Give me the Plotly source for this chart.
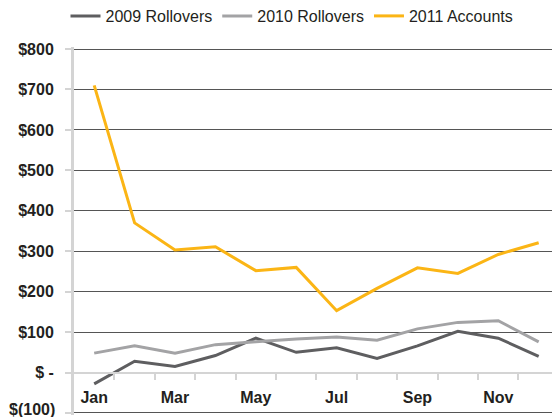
import plotly.graph_objects as go

months = ["Jan", "Feb", "Mar", "Apr", "May", "Jun", "Jul", "Aug", "Sep", "Oct", "Nov", "Dec"]
rollovers_2009 = [-28, 28, 15, 42, 85, 50, 61, 35, 66, 102, 85, 40]
rollovers_2010 = [48, 66, 48, 69, 76, 83, 88, 80, 108, 124, 128, 76]
accounts_2011 = [710, 370, 303, 311, 252, 260, 153, 208, 259, 245, 292, 321]

y_tickvals = [-100, 0, 100, 200, 300, 400, 500, 600, 700, 800]
y_ticktext = ["$(100)", "$ -", "$100", "$200", "$300", "$400", "$500", "$600", "$700", "$800"]
x_label_months = ["Jan", "Mar", "May", "Jul", "Sep", "Nov"]

idx = list(range(len(months)))
FONT = "Liberation Sans, Arial, Helvetica, sans-serif"
TXT = "#231f20"

fig = go.Figure()
series = [
    ("2009 Rollovers", rollovers_2009, "#5e5e60"),
    ("2010 Rollovers", rollovers_2010, "#a3a3a5"),
    ("2011 Accounts", accounts_2011, "#fbb515"),
]
for name, vals, col in series:
    fig.add_trace(go.Scatter(x=idx, y=vals, name=name, mode="lines",
                             line=dict(color=col, width=3)))

# invisible trace to carry the month-label axis
fig.add_trace(go.Scatter(x=idx, y=[None] * len(idx), xaxis="x2", showlegend=False,
                         hoverinfo="skip"))

yr = [-105, 805]
zero_pos = (0 - yr[0]) / (yr[1] - yr[0])
xr = [-0.5, 11.33]

# the lowest tick label sits at the page edge: draw it as an annotation nudged up
shown_ticktext = [""] + y_ticktext[1:]
fig.add_annotation(x=0, xref="paper", xanchor="right", xshift=-17,
                   y=y_tickvals[0], yref="y", yanchor="middle", yshift=3,
                   text=y_ticktext[0], showarrow=False,
                   font=dict(size=16, color=TXT, family=FONT, weight="bold"))

fig.update_layout(
    width=552, height=417,
    margin=dict(l=74, r=0, t=47, b=2, autoexpand=False),
    paper_bgcolor="white", plot_bgcolor="white",
    font=dict(family=FONT, color=TXT, size=16),
    showlegend=True,
    legend=dict(orientation="h", x=292 / 552, xanchor="center", xref="container",
                y=1 - 16 / 417, yanchor="middle", yref="container",
                font=dict(size=16, color=TXT, family=FONT), itemwidth=30,
                traceorder="normal", bgcolor="rgba(0,0,0,0)"),
    xaxis=dict(range=xr, anchor="free", position=zero_pos, showgrid=False, automargin=False,
               zeroline=False, showline=True, linecolor="#d4d4d4", linewidth=2,
               tickmode="array", tickvals=[i + 0.5 for i in idx[:-1]], ticktext=[""] * 11,
               ticks="outside", ticklen=6, tickcolor="#d4d4d4", tickwidth=2),
    xaxis2=dict(range=xr, overlaying="x", anchor="free", position=zero_pos, automargin=False,
                showgrid=False, zeroline=False, showline=False, ticks="",
                tickmode="array", tickvals=[months.index(m) for m in x_label_months],
                ticktext=x_label_months,
                tickfont=dict(size=16, color=TXT, family=FONT, weight="bold"),
                ticklabelstandoff=13),
    yaxis=dict(range=yr, tickmode="array", tickvals=y_tickvals, ticktext=shown_ticktext,
               automargin=False, ticklabeloverflow="allow",
               showgrid=True, gridcolor="#555555", gridwidth=1, zeroline=False,
               showline=True, linecolor="#d4d4d4", linewidth=3,
               ticks="outside", ticklen=6, tickcolor="#d4d4d4", tickwidth=2,
               ticklabelstandoff=8,
               tickfont=dict(size=16, color=TXT, family=FONT, weight="bold")),
)

fig.write_html("out.html", config={"displayModeBar": False},
               post_script="document.body.style.margin='0';")
